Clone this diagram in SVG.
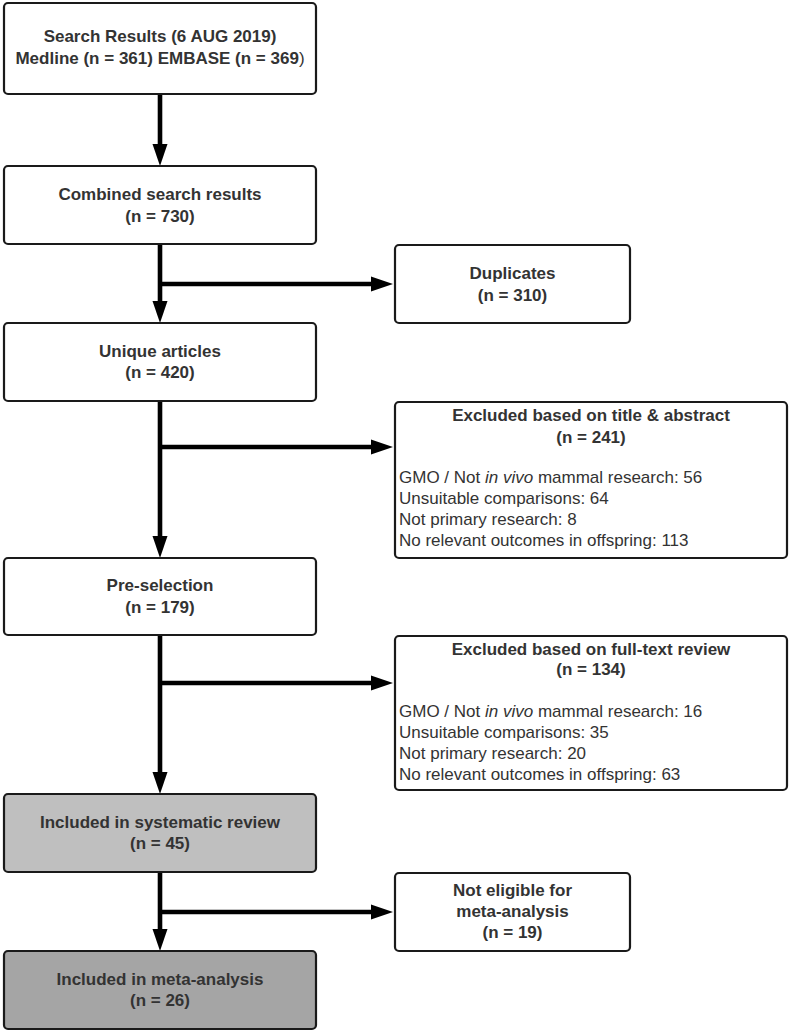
<svg xmlns="http://www.w3.org/2000/svg" width="790" height="1033" viewBox="0 0 790 1033">
<style>
.box{fill:#fff;stroke:#1a1a1a;stroke-width:2.2}
.g1{fill:#bfbfbf}
.g2{fill:#a5a5a5}
.t{font-family:"Liberation Sans",Arial,sans-serif;font-size:17px;font-weight:bold;fill:#333;text-anchor:middle}
.i{font-family:"Liberation Sans",Arial,sans-serif;font-size:17px;fill:#333}
.c{stroke:#000;stroke-width:4.6;fill:none}
</style>
<defs>
<marker id="ah" markerUnits="userSpaceOnUse" markerWidth="22" markerHeight="16" refX="12" refY="8" orient="auto">
<path d="M0,0.5 L22,8 L0,15.5 z" fill="#000"/>
</marker>
</defs>
<g id="connectors">
<line class="c" x1="160" y1="95" x2="160" y2="156" marker-end="url(#ah)"/>
<line class="c" x1="160" y1="245" x2="160" y2="313" marker-end="url(#ah)"/>
<line class="c" x1="160" y1="284" x2="383" y2="284" marker-end="url(#ah)"/>
<line class="c" x1="160" y1="402" x2="160" y2="548" marker-end="url(#ah)"/>
<line class="c" x1="160" y1="447" x2="383" y2="447" marker-end="url(#ah)"/>
<line class="c" x1="160" y1="636" x2="160" y2="784" marker-end="url(#ah)"/>
<line class="c" x1="160" y1="683" x2="383" y2="683" marker-end="url(#ah)"/>
<line class="c" x1="160" y1="873" x2="160" y2="941" marker-end="url(#ah)"/>
<line class="c" x1="160" y1="912" x2="383" y2="912" marker-end="url(#ah)"/>
</g>
<g id="search">
<rect class="box" x="4" y="3" width="312" height="91" rx="4"/>
<text class="t" x="160" y="42">Search Results (6 AUG 2019)</text>
<text class="t" x="160" y="64">Medline (n = 361) EMBASE (n = 369<tspan font-weight="normal">)</tspan></text>
</g>
<g id="combined">
<rect class="box" x="4" y="166" width="312" height="78" rx="4"/>
<text class="t" x="160" y="200">Combined search results</text>
<text class="t" x="160" y="222">(n = 730)</text>
</g>
<g id="duplicates">
<rect class="box" x="395" y="245" width="235" height="78" rx="4"/>
<text class="t" x="512.5" y="279">Duplicates</text>
<text class="t" x="512.5" y="301">(n = 310)</text>
</g>
<g id="unique">
<rect class="box" x="4" y="323" width="312" height="78" rx="4"/>
<text class="t" x="160" y="356.5">Unique articles</text>
<text class="t" x="160" y="378">(n = 420)</text>
</g>
<g id="excluded1">
<rect class="box" x="395" y="402" width="392" height="156" rx="4"/>
<text class="t" x="591" y="421">Excluded based on title &amp; abstract</text>
<text class="t" x="591" y="442.5">(n = 241)</text>
<text class="i" x="399" y="483">GMO / Not <tspan font-style="italic">in vivo</tspan> mammal research: 56</text>
<text class="i" x="399" y="504">Unsuitable comparisons: 64</text>
<text class="i" x="399" y="524.5">Not primary research: 8</text>
<text class="i" x="399" y="545.5">No relevant outcomes in offspring: 113</text>
</g>
<g id="preselection">
<rect class="box" x="4" y="558" width="312" height="77" rx="4"/>
<text class="t" x="160" y="591">Pre-selection</text>
<text class="t" x="160" y="613">(n = 179)</text>
</g>
<g id="excluded2">
<rect class="box" x="395" y="636" width="392" height="154" rx="4"/>
<text class="t" x="591" y="654.5">Excluded based on full-text review</text>
<text class="t" x="591" y="675">(n = 134)</text>
<text class="i" x="399" y="717">GMO / Not <tspan font-style="italic">in vivo</tspan> mammal research: 16</text>
<text class="i" x="399" y="738">Unsuitable comparisons: 35</text>
<text class="i" x="399" y="758.5">Not primary research: 20</text>
<text class="i" x="399" y="779.5">No relevant outcomes in offspring: 63</text>
</g>
<g id="systematic">
<rect class="box g1" x="4" y="794" width="312" height="78" rx="4"/>
<text class="t" x="160" y="828">Included in systematic review</text>
<text class="t" x="160" y="849">(n = 45)</text>
</g>
<g id="noteligible">
<rect class="box" x="395" y="873" width="235" height="78" rx="4"/>
<text class="t" x="512.5" y="896">Not eligible for</text>
<text class="t" x="512.5" y="917">meta-analysis</text>
<text class="t" x="512.5" y="938">(n = 19)</text>
</g>
<g id="meta">
<rect class="box g2" x="4" y="951" width="312" height="78" rx="4"/>
<text class="t" x="160" y="985">Included in meta-analysis</text>
<text class="t" x="160" y="1006">(n = 26)</text>
</g>
</svg>
